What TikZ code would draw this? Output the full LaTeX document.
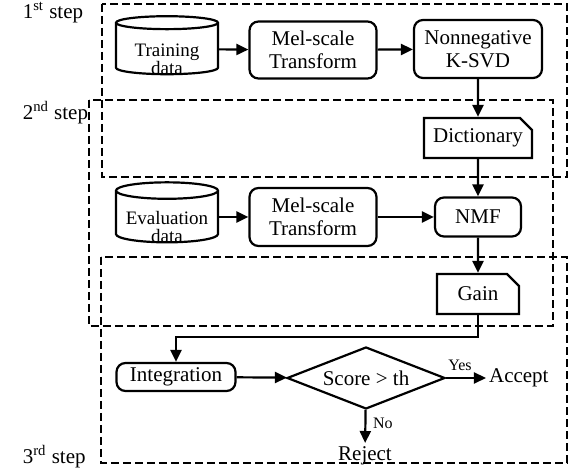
\documentclass[tikz,border=0pt]{standalone}
\usepackage{fontspec}
\setmainfont{Liberation Serif}
\usetikzlibrary{shapes.geometric,shapes.misc,arrows.meta}

\newcommand{\cyltext}[1]{\raisebox{-8.5pt}[0pt][0pt]{\fontsize{9.5}{8.5}\selectfont\begin{tabular}{@{}c@{}}#1\end{tabular}}}

\tikzset{
  stepbox/.style={dash pattern=on 4pt off 2pt},
  datab/.style={draw, cylinder, shape border rotate=90, aspect=0.2,
    minimum width=51pt, minimum height=29pt, inner sep=0pt},
  proc/.style={draw, rounded corners=4.5pt, align=center, inner sep=0pt},
  docu/.style={draw, chamfered rectangle, chamfered rectangle corners=north east,
    chamfered rectangle xsep=3pt, chamfered rectangle ysep=3pt,
    minimum height=20pt, inner sep=0pt},
  arr/.style={-{Triangle[length=6pt,width=5.5pt]}},
  small/.style={font=\rmfamily\fontsize{8}{9}\selectfont}
}

\begin{document}
\begin{tikzpicture}[x=0.5pt,y=-0.5pt,line width=1.1pt,
    font=\rmfamily\fontsize{10.5}{11.5}\selectfont]
    \useasboundingbox (0,0) rectangle (570,476);

    \draw[stepbox] (102,4) rectangle (567,177);
    \draw[stepbox] (89,100) rectangle (553,326);
    \draw[stepbox] (101,257) rectangle (567,463);
    \node[anchor=west] (s1) at (15,13) {1\textsuperscript{st} step};
    \node[anchor=west] (s2) at (15,113) {2\textsuperscript{nd} step};
    \node[anchor=west] (s3) at (15,457) {3\textsuperscript{rd} step};

    \node[datab] (train) at (167,49) {\cyltext{Training\\data}};
    \node[proc, minimum width=63.5pt, minimum height=28.5pt] (mel1) at (313,50) {Mel-scale\\Transform};
    \node[proc, minimum width=64pt, minimum height=29pt] (ksvd) at (478,49) {Nonnegative\\K-SVD};
    \node[docu, minimum width=54pt] (dict) at (478,138) {Dictionary};

    \node[datab, minimum height=30pt] (eval) at (167,217) {\cyltext{Evaluation\\data}};
    \node[proc, minimum width=63.5pt, minimum height=29pt] (mel2) at (313,217) {Mel-scale\\Transform};
    \node[proc, minimum width=43pt, minimum height=19.5pt] (nmf) at (478,217) {NMF};
    \node[docu, minimum width=41pt] (gain) at (478,294) {Gain};

    \node[proc, minimum width=59.5pt, minimum height=14pt] (integ) at (176,377) {Integration};
    \node[draw, diamond, aspect=2.5, inner sep=0pt, minimum width=79pt, minimum height=31pt] (dec) at (366,378) {Score > th};
    \node[anchor=west, inner sep=1pt] (acc) at (486,378) {Accept};
    \node[anchor=north, inner sep=1pt] (rej) at (365,443) {Reject};
    \coordinate (bend) at (0,337);

    \draw[arr] (train) -- (mel1);
    \draw[arr] (mel1) -- (ksvd);
    \draw[arr] (ksvd) -- (dict);
    \draw[arr] (dict) -- (nmf);
    \draw[arr] (eval) -- (mel2);
    \draw[arr] (mel2) -- (nmf);
    \draw[arr] (nmf) -- (gain);
    \draw[arr] (gain.south) -- (gain.south |- bend) -| (integ.north);
    \draw[arr] (integ) -- (dec);
    \draw[arr] (dec) -- node[above, small, pos=0.35] {Yes} (acc);
    \draw[arr] (dec) -- node[right, small, pos=0.4] {No} (rej);
\end{tikzpicture}
\end{document}
